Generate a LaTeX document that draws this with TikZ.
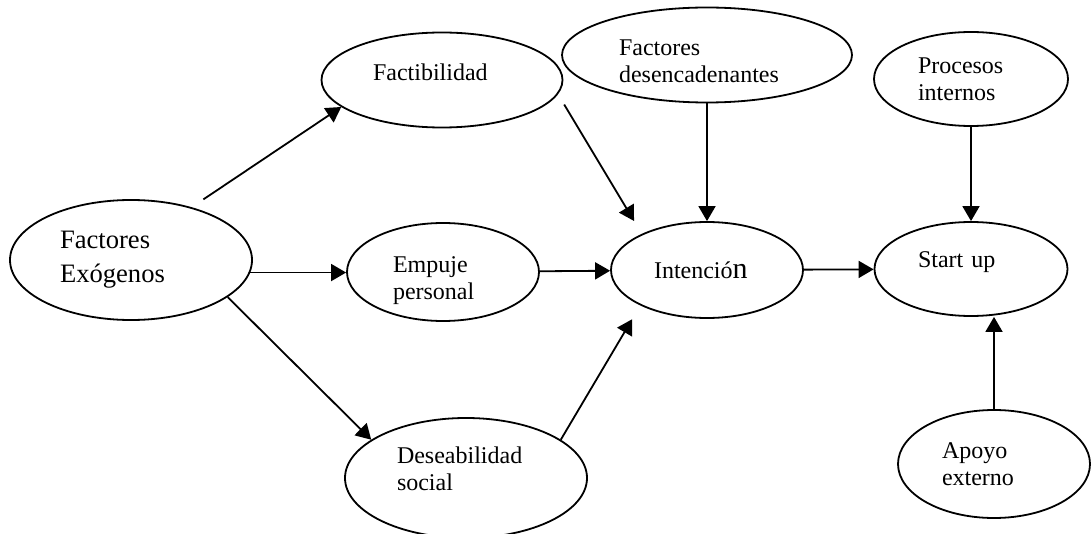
\documentclass[tikz,border=0pt]{standalone}
\usepackage{fontspec}
\setmainfont{Liberation Serif}
\usetikzlibrary{shapes.geometric,arrows.meta}
\begin{document}
\begin{tikzpicture}[x=.5pt, y=-.5pt, font=\fontsize{12}{13.5}\selectfont, line join=round, >={Triangle[length=7.5pt,width=8.5pt]},
		oval/.style={draw, ellipse, line width=.9pt, inner sep=0pt, align=left},
		arr/.style={->, line width=.9pt}]
	\useasboundingbox (0,0) rectangle (1091,534);
	% left column
	\node[oval, minimum width=121pt, minimum height=60pt, text width=71pt, font=\fontsize{13.3}{17}\selectfont] (exo) at (131,260) {Factores\\Exógenos};
	% middle column
	\node[oval, minimum width=120.5pt, minimum height=47.5pt, text width=69pt, text depth=8pt] (facti) at (442,80) {Factibilidad};
	\node[oval, minimum width=96pt, minimum height=49pt, text width=50pt, text height=16.5pt] (empuje) at (443,272) {Empuje\\personal};
	\node[oval, minimum width=121pt, minimum height=60pt, text width=69pt, text depth=22.5pt] (desea) at (466,478) {Deseabilidad\\social};
	% intention
	\node[oval, minimum width=145pt, minimum height=47.5pt, text width=88pt, text height=14pt] (desen) at (707,55) {Factores\\desencadenantes};
	\node[oval, minimum width=96pt, minimum height=48pt, text width=53pt] (inten) at (707,270) {Intenció{\fontsize{15}{15}\selectfont n}};
	% right column
	\node[oval, minimum width=97pt, minimum height=47pt, text width=53pt] (proc) at (971,79) {Procesos\\internos};
	\node[oval, minimum width=96.5pt, minimum height=47pt, text width=53pt, text depth=9pt] (start) at (971,269) {Start up};
	\node[oval, minimum width=96pt, minimum height=54pt, text width=52pt] (apoyo) at (994,464) {Apoyo\\externo};
	% arrows
	\draw[arr, shorten <=7pt] (exo.41) -- (facti.195);
	\draw[arr] (exo.-6) -- (exo.-6 -| empuje.west);
	\draw[arr] (exo.-21) -- (desea.158);
	\draw[arr, shorten <=6pt, shorten >=7.5pt] (facti.-7) -- (inten.151);
	\draw[arr] (desen) -- (inten);
	\draw[arr] (empuje) -- (inten);
	\draw[arr, shorten >=8pt] (desea.22) -- (inten.208);
	\draw[arr] (inten) -- (start);
	\draw[arr] (proc) -- (start);
	\draw[arr] (apoyo.north) -- (apoyo.north |- start.south);
\end{tikzpicture}
\end{document}
